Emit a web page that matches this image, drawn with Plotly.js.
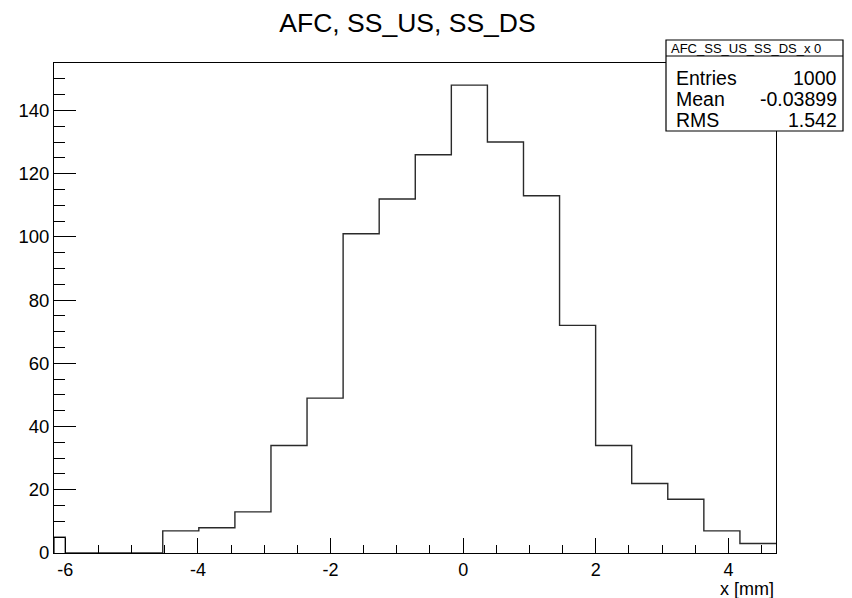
<!DOCTYPE html>
<html>
<head>
<meta charset="utf-8">
<script src="https://cdn.plot.ly/plotly-3.0.1.min.js"></script>
<style>html,body{margin:0;padding:0;background:#fff;}#chart{width:852px;height:598px;}</style>
</head>
<body>
<div id="chart"></div>
<script>
// Bin edges (x [mm]) and bin counts
var binEdges = [-6.17, -6.0, -4.53, -3.986, -3.442, -2.898, -2.354, -1.81, -1.266, -0.722, -0.178, 0.366, 0.91, 1.454, 1.998, 2.542, 3.086, 3.63, 4.174, 4.718];
var binCounts = [5, 0, 7, 8, 13, 34, 49, 101, 112, 126, 148, 130, 113, 72, 34, 22, 17, 7, 3];
var xTickVals = [-6, -4, -2, 0, 2, 4];
var yTickVals = [0, 20, 40, 60, 80, 100, 120, 140];
var statsName = "AFC_SS_US_SS_DS_x 0";
var statsLabels = ["Entries", "Mean", "RMS"];
var statsValues = ["1000", "-0.03899", "1.542"];
var chartTitle = "AFC, SS_US, SS_DS";
var xTitle = "x [mm]";

var W = 852, H = 598;
var L = 54, R = 76, T = 63, B = 45;
var pw = W - L - R, ph = H - T - B;
function px2x(p){ return (p - L) / pw; }
function px2y(p){ return (H - B - p) / ph; }

var xs = [binEdges[0]].concat(binEdges);
var ys = [0].concat(binCounts).concat([binCounts[binCounts.length - 1]]);

var font = "Liberation Sans, Arial, Helvetica, sans-serif";

var trace = {
  x: xs, y: ys, type: "scatter", mode: "lines",
  line: {shape: "hv", color: "#2a2a2a", width: 1.4},
  hoverinfo: "skip", showlegend: false
};

var boxL = 666, boxR = 843, boxT = 40, boxB = 131, boxH = 56;
var shapes = [
  {type: "rect", xref: "paper", yref: "paper", x0: px2x(boxL), x1: px2x(boxR), y0: px2y(boxB), y1: px2y(boxT),
   line: {color: "#000", width: 1.2}, fillcolor: "#fff", layer: "above"},
  {type: "line", xref: "paper", yref: "paper", x0: px2x(boxL), x1: px2x(boxR), y0: px2y(boxH), y1: px2y(boxH),
   line: {color: "#000", width: 1.2}, layer: "above"}
];

var annotations = [
  {xref: "paper", yref: "paper", x: px2x(669), y: px2y(48), text: statsName, showarrow: false,
   xanchor: "left", yanchor: "middle", font: {family: font, size: 13, color: "#000"}},
  {xref: "paper", yref: "paper", x: px2x(776), y: px2y(589), text: xTitle, showarrow: false,
   xanchor: "right", yanchor: "middle", font: {family: font, size: 18, color: "#000"}}
];
var rowY = [77.5, 98.5, 119.5];
for (var i = 0; i < statsLabels.length; i++) {
  annotations.push({xref: "paper", yref: "paper", x: px2x(674), y: px2y(rowY[i]), text: statsLabels[i], showarrow: false,
    xanchor: "left", yanchor: "middle", font: {family: font, size: 19.5, color: "#000"}});
  annotations.push({xref: "paper", yref: "paper", x: px2x(839), y: px2y(rowY[i]), text: statsValues[i], showarrow: false,
    xanchor: "right", yanchor: "middle", font: {family: font, size: 19.5, color: "#000"}});
}

var layout = {
  width: W, height: H,
  margin: {l: L, r: R, t: T, b: B, pad: 0},
  paper_bgcolor: "#fff", plot_bgcolor: "#fff",
  title: {text: chartTitle, x: px2x(407.5), xref: "paper", xanchor: "center", y: 1 - 23 / H, yanchor: "middle",
          font: {family: font, size: 26.5, color: "#000"}},
  xaxis: {
    range: [binEdges[0], binEdges[binEdges.length - 1]],
    tickvals: xTickVals, ticktext: xTickVals.map(String),
    ticks: "inside", ticklen: 15, tickwidth: 1, tickcolor: "#000",
    minor: {dtick: 0.5, tick0: 0, ticks: "inside", ticklen: 8, tickwidth: 1, tickcolor: "#000", showgrid: false},
    showline: true, linecolor: "#000", linewidth: 1, mirror: true,
    showgrid: false, zeroline: false,
    tickfont: {family: font, size: 18, color: "#000"}
  },
  yaxis: {
    range: [0, 155],
    tickvals: yTickVals, ticktext: yTickVals.map(String),
    ticks: "inside", ticklen: 22, tickwidth: 1, tickcolor: "#000",
    minor: {dtick: 5, tick0: 0, ticks: "inside", ticklen: 11, tickwidth: 1, tickcolor: "#000", showgrid: false},
    showline: true, linecolor: "#000", linewidth: 1, mirror: true,
    showgrid: false, zeroline: false,
    tickfont: {family: font, size: 18.5, color: "#000"}
  },
  shapes: shapes,
  annotations: annotations
};

Plotly.newPlot("chart", [trace], layout, {staticPlot: true, displayModeBar: false});
</script>
</body>
</html>
